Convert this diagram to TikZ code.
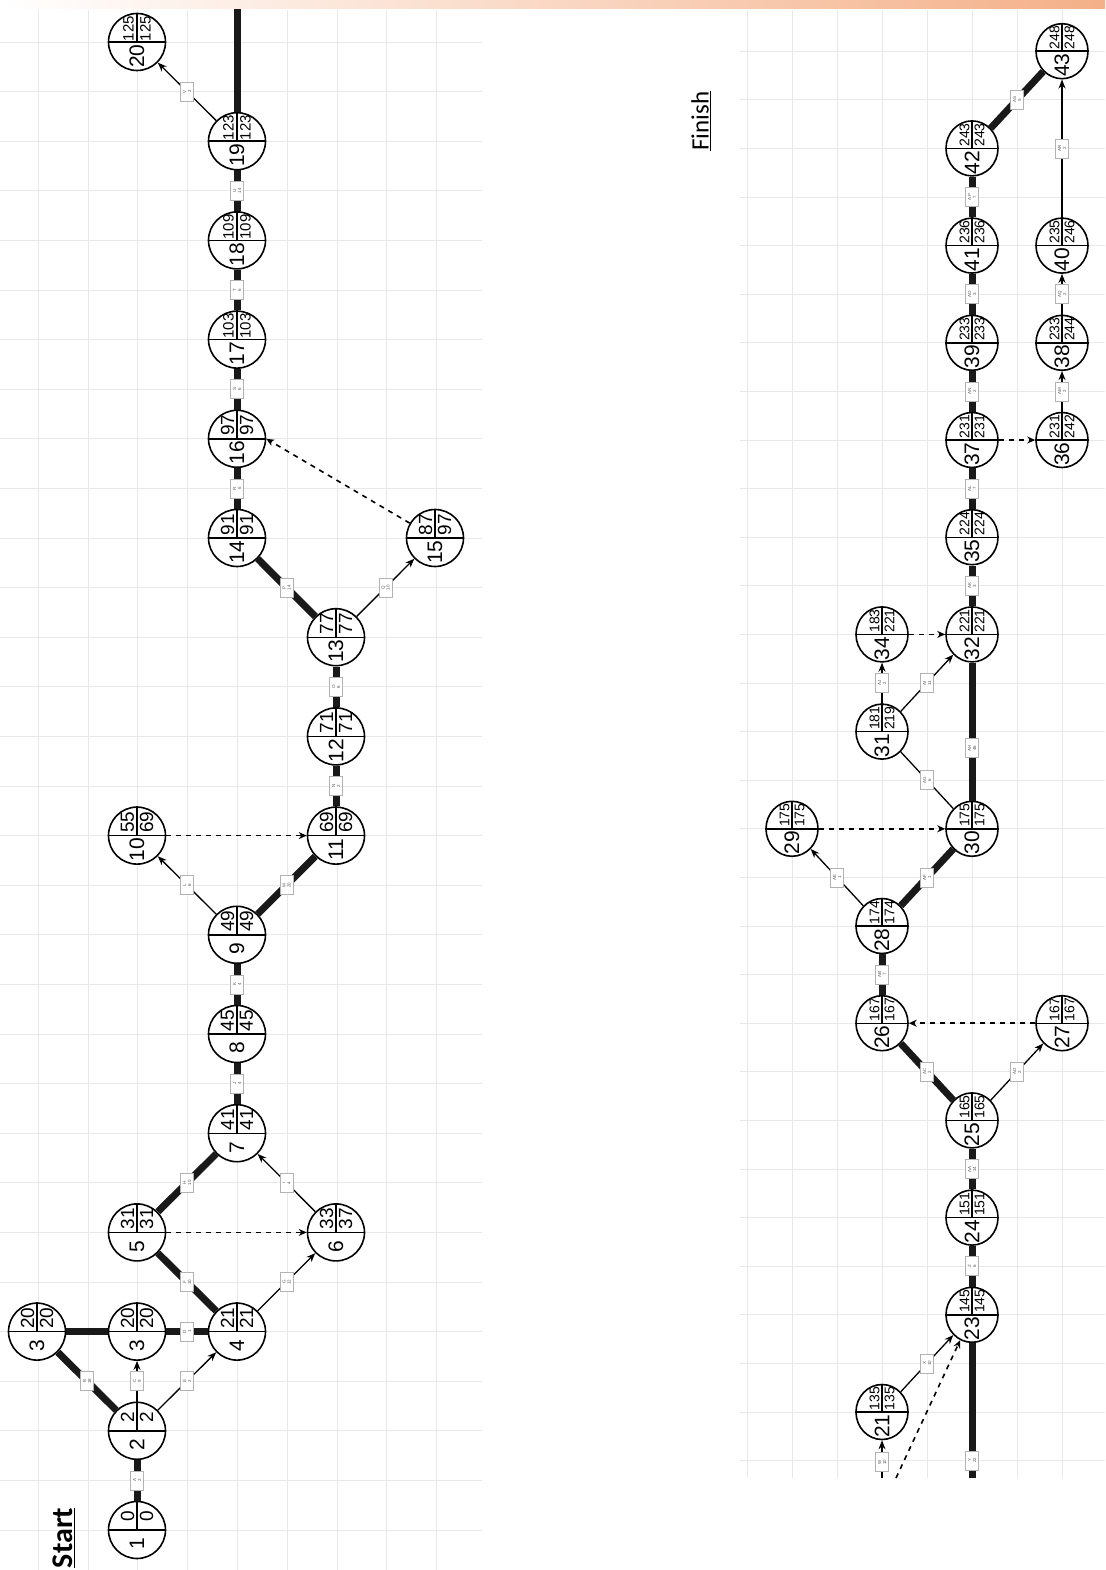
\documentclass[tikz,border=0pt]{standalone}
\usepackage{fontspec}
\setmainfont{Liberation Sans}
\newfontfamily\carl{Carlito}
\usetikzlibrary{arrows.meta,shapes.geometric}
\definecolor{gridc}{HTML}{E8E8E8}
\definecolor{bandr}{HTML}{F4B088}
\definecolor{bandl}{HTML}{FFFFFF}
\tikzset{
  evl/.style={circle, draw, fill=white, line width=1.6pt, minimum size=57pt, inner sep=0pt},
  evr/.style={ellipse, draw, fill=white, line width=1.6pt, minimum width=52pt, minimum height=55pt, inner sep=0pt},
  inl/.style={line width=1.4pt},
  numt/.style={rotate=90, inner sep=0pt, font=\fontsize{21}{21}\selectfont},
  est/.style={rotate=90, inner sep=0pt},
  crit/.style={line width=7pt, draw=black!90},
  act/.style={line width=1.3pt, -{Stealth[length=9pt,width=7pt]}},
  actn/.style={line width=1.3pt},
  dum/.style={line width=1.6pt, dash pattern=on 5pt off 5pt, -{Stealth[length=8pt,width=7pt]}},
  lab/.style={rotate=90, draw=black!30, fill=white, line width=0.6pt, inner sep=0.5pt,
    minimum width=19pt, minimum height=13pt, align=center,
    font=\fontsize{4.5}{5}\selectfont, text=black!65},
  gridline/.style={draw=gridc, line width=0.9pt},
}
% #1 name, #2 shape style, #3 position, #4 number, #5 ES, #6 LF, #7 font size, #8 offset
\newcommand\ev[8]{%
  \node[#2] (#1) at (#3) {};
  \draw[inl] (#1.west) -- (#1.east) (#1.center) -- (#1.north);
  \node[numt] (#1n) at ([yshift=-14pt]#1.center) {#4};
  \node[est, font=\fontsize{#7}{#7}\selectfont] (#1a) at ([xshift=-#8,yshift=13.5pt]#1.center) {#5};
  \node[est, font=\fontsize{#7}{#7}\selectfont] (#1b) at ([xshift=#8,yshift=13.5pt]#1.center) {#6};
}
\begin{document}
\begin{tikzpicture}[x=1pt,y=-1pt]
\useasboundingbox (0,0) rectangle (1105,1570);
% top band
\shade[left color=bandl, right color=bandr] (0,0) rectangle (1105,9);
% left grid
\foreach \k in {0,...,8} { \draw[gridline] ({38.3+49.8*\k},10) -- ({38.3+49.8*\k},1570); }
\foreach \k in {0,...,30} { \draw[gridline] (0,{1530-49.6*\k}) -- (482,{1530-49.6*\k}); }
% right grid
\foreach \k in {0,...,7} { \draw[gridline] ({747+45*\k},10) -- ({747+45*\k},1478); }
\foreach \k in {-1,...,28} { \draw[gridline] (740,{1412-48.6*\k}) -- (1105,{1412-48.6*\k}); }

% titles
\node[rotate=90, inner sep=0pt, font=\carl\bfseries\fontsize{30}{30}\selectfont] (start) at (64,1538) {\underline{Start}};
\node[rotate=90, inner sep=0pt, font=\carl\fontsize{25}{25}\selectfont] (finish) at (701,121) {\underline{Finish}};

% left panel events
\ev{n1}{evl}{137,1530}{1}{0}{0}{19}{9.5pt}
\ev{n2}{evl}{137,1430.8}{2}{2}{2}{19}{9.5pt}
\ev{n3a}{evl}{37,1331.6}{3}{20}{20}{19}{9.5pt}
\ev{n3b}{evl}{137,1331.6}{3}{20}{20}{19}{9.5pt}
\ev{n4}{evl}{237,1331.6}{4}{21}{21}{19}{9.5pt}
\ev{n5}{evl}{137,1232.4}{5}{31}{31}{19}{9.5pt}
\ev{n6}{evl}{336,1232.4}{6}{33}{37}{19}{9.5pt}
\ev{n7}{evl}{237,1133.2}{7}{41}{41}{19}{9.5pt}
\ev{n8}{evl}{237,1034}{8}{45}{45}{19}{9.5pt}
\ev{n9}{evl}{237,934.8}{9}{49}{49}{19}{9.5pt}
\ev{n10}{evl}{137,835.6}{10}{55}{69}{19}{9.5pt}
\ev{n11}{evl}{336,835.6}{11}{69}{69}{19}{9.5pt}
\ev{n12}{evl}{336,736.4}{12}{71}{71}{19}{9.5pt}
\ev{n13}{evl}{336,637.2}{13}{77}{77}{19}{9.5pt}
\ev{n14}{evl}{237,538}{14}{91}{91}{19}{9.5pt}
\ev{n15}{evl}{435,538}{15}{87}{97}{19}{9.5pt}
\ev{n16}{evl}{237,438.8}{16}{97}{97}{19}{9.5pt}
\ev{n17}{evl}{237,339.6}{17}{103}{103}{15}{8.5pt}
\ev{n18}{evl}{237,240.4}{18}{109}{109}{15}{8.5pt}
\ev{n19}{evl}{237,141.2}{19}{123}{123}{15}{8.5pt}
\ev{n20}{evl}{137,42}{20}{125}{125}{15}{8.5pt}
\coordinate (t19) at (237,9);

% left panel activities
\draw[crit] (n1) -- node[lab] (lA) {A\\2} (n2);
\draw[crit] (n2) -- node[lab] (lB) {B\\18} (n3a);
\draw[crit] (n3a) -- (n3b);
\draw[act] (n2) -- node[lab] (lC) {C\\9} (n3b);
\draw[act] (n2) -- node[lab] (lE) {E\\2} (n4);
\draw[crit] (n3b) -- node[lab] (lD) {D\\1} (n4);
\draw[crit] (n4) -- node[lab] (lF) {F\\10} (n5);
\draw[act] (n4) -- node[lab] (lG) {G\\12} (n6);
\draw[dum] (n5) -- (n6);
\draw[crit] (n5) -- node[lab] (lH) {H\\10} (n7);
\draw[act] (n6) -- node[lab] (lI) {I\\4} (n7);
\draw[crit] (n7) -- node[lab] (lJ) {J\\4} (n8);
\draw[crit] (n8) -- node[lab] (lK) {K\\4} (n9);
\draw[act] (n9) -- node[lab] (lL) {L\\6} (n10);
\draw[crit] (n9) -- node[lab] (lM) {M\\20} (n11);
\draw[dum] (n10) -- (n11);
\draw[crit] (n11) -- node[lab] (lN) {N\\2} (n12);
\draw[crit] (n12) -- node[lab] (lO) {O\\6} (n13);
\draw[crit] (n13) -- node[lab] (lP) {P\\14} (n14);
\draw[act] (n13) -- node[lab] (lQ) {Q\\10} (n15);
\draw[dum] (n15) -- (n16.east);
\draw[crit] (n14) -- node[lab] (lR) {R\\6} (n16);
\draw[crit] (n16) -- node[lab] (lS) {S\\6} (n17);
\draw[crit] (n17) -- node[lab] (lT) {T\\6} (n18);
\draw[crit] (n18) -- node[lab] (lU) {U\\14} (n19);
\draw[act] (n19) -- node[lab] (lV) {V\\2} (n20);
\draw[crit] (n19) -- (t19);

% right panel events
\ev{n21}{evr}{882,1412}{21}{135}{135}{14}{7.5pt}
\ev{n23}{evr}{972,1314.8}{23}{145}{145}{14}{7.5pt}
\ev{n24}{evr}{972,1217.6}{24}{151}{151}{14}{7.5pt}
\ev{n25}{evr}{972,1120.4}{25}{165}{165}{14}{7.5pt}
\ev{n26}{evr}{882,1023.2}{26}{167}{167}{14}{7.5pt}
\ev{n27}{evr}{1062,1023.2}{27}{167}{167}{14}{7.5pt}
\ev{n28}{evr}{882,926}{28}{174}{174}{14}{7.5pt}
\ev{n29}{evr}{792,828.8}{29}{175}{175}{14}{7.5pt}
\ev{n30}{evr}{972,828.8}{30}{175}{175}{14}{7.5pt}
\ev{n31}{evr}{882,731.6}{31}{181}{219}{14}{7.5pt}
\ev{n32}{evr}{972,634.4}{32}{221}{221}{14}{7.5pt}
\ev{n34}{evr}{882,634.4}{34}{183}{221}{14}{7.5pt}
\ev{n35}{evr}{972,537.2}{35}{224}{224}{14}{7.5pt}
\ev{n37}{evr}{972,440}{37}{231}{231}{14}{7.5pt}
\ev{n36}{evr}{1062,440}{36}{231}{242}{14}{7.5pt}
\ev{n39}{evr}{972,342.8}{39}{233}{233}{14}{7.5pt}
\ev{n38}{evr}{1062,342.8}{38}{233}{244}{14}{7.5pt}
\ev{n41}{evr}{972,245.6}{41}{236}{236}{14}{7.5pt}
\ev{n40}{evr}{1062,245.6}{40}{235}{246}{14}{7.5pt}
\ev{n42}{evr}{972,148.4}{42}{243}{243}{14}{7.5pt}
\ev{n43}{evr}{1062,51.2}{43}{248}{248}{14}{7.5pt}
\coordinate (bW) at (882,1478);
\coordinate (bY) at (972,1478);
\coordinate (bD) at (896,1478);

% right panel activities
\draw[act] (bW) -- node[lab, pos=0.42] (lW) {W\\10} (n21);
\draw[dum] (bD) -- (n23);
\draw[crit] (bY) -- node[lab, pos=0.13] (lY) {Y\\22} (n23);
\draw[act] (n21) -- node[lab] (lX) {X\\10} (n23);
\draw[crit] (n23) -- node[lab] (lZ) {Z\\6} (n24);
\draw[crit] (n24) -- node[lab] (lAA) {AA\\14} (n25);
\draw[crit] (n25) -- node[lab] (lAC) {AC\\2} (n26);
\draw[act] (n25) -- node[lab] (lAD) {AD\\2} (n27);
\draw[dum] (n27) -- (n26);
\draw[crit] (n26) -- node[lab] (lAB) {AB\\7} (n28);
\draw[act] (n28) -- node[lab] (lAE) {AE\\1} (n29);
\draw[crit] (n28) -- node[lab] (lAF) {AF\\1} (n30);
\draw[dum] (n29) -- (n30);
\draw[actn] (n30) -- node[lab] (lAG) {AG\\6} (n31);
\draw[crit] (n30) -- node[lab, pos=0.38] (lAH) {AH\\46} (n32);
\draw[act] (n31) -- node[lab] (lAJ) {AJ\\2} (n34);
\draw[act] (n31) -- node[lab] (lAI) {AI\\11} (n32);
\draw[dum] (n34) -- (n32);
\draw[crit] (n32) -- node[lab] (lAK) {AK\\3} (n35);
\draw[crit] (n35) -- node[lab] (lAL) {AL\\7} (n37);
\draw[dum] (n37) -- (n36);
\draw[crit] (n37) -- node[lab] (lAN) {AN\\2} (n39);
\draw[act] (n36) -- node[lab] (lAM) {AM\\2} (n38);
\draw[crit] (n39) -- node[lab] (lAO) {AO\\3} (n41);
\draw[act] (n38) -- node[lab] (lAQ) {AQ\\2} (n40);
\draw[crit] (n41) -- node[lab] (lAP) {AP\\7} (n42);
\draw[crit] (n42) -- node[lab] (lAS) {AS\\5} (n43);
\draw[act] (n40) -- node[lab] (lAR) {AR\\2} (n43);
\end{tikzpicture}
\end{document}
